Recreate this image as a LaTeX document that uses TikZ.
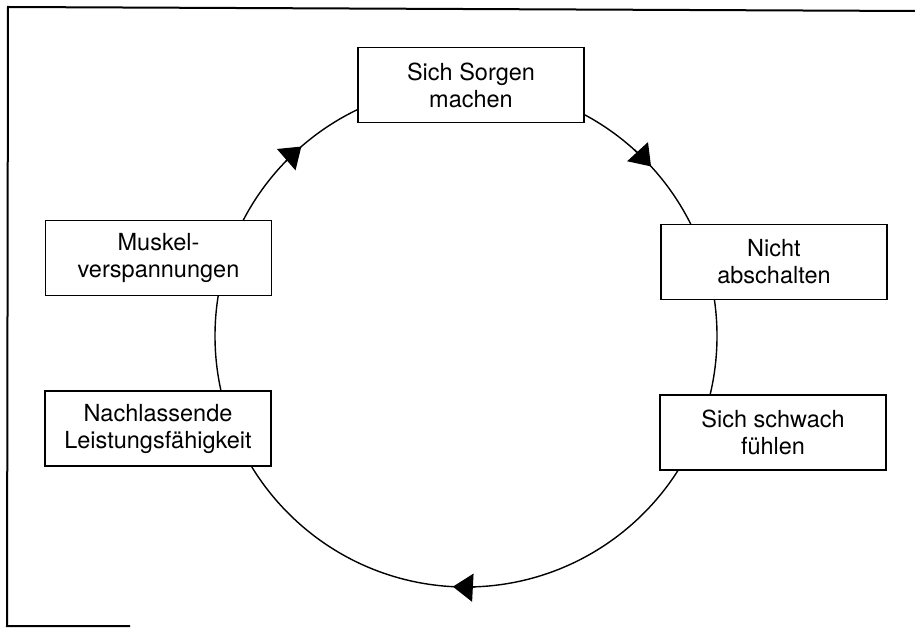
\documentclass[tikz,border=0pt]{standalone}
\usepackage{fontspec}
\setmainfont{TeX Gyre Heros}
\usetikzlibrary{arrows.meta,calc}
\begin{document}
\begin{tikzpicture}[x=1pt,y=1pt,
  box/.style={draw, line width=1.4pt, fill=white, minimum width=226pt, minimum height=75pt,
    inner sep=0pt, align=center, font=\fontsize{23.5}{27}\selectfont},
  ring/.style={line width=1.4pt},
  frame/.style={line width=2pt},
  head/.style={line width=1.4pt, -{Triangle[length=20pt,width=28pt]}}]
\useasboundingbox (0,0) rectangle (915,627);
% partial outer frame
\coordinate (fTL) at (8,620);
\coordinate (fTR) at (915,616);
\coordinate (fBL) at (7,1);
\coordinate (fBR) at (130,1);
\draw[frame] (fTR) -- (fTL) -- (fBL) -- (fBR);
% cycle ring
\coordinate (C) at (466,291);
\draw[ring] (C) circle[radius=251];
\draw[head] ($(C)+(136:251)$) arc[start angle=136, end angle=131, radius=251];
\draw[head] ($(C)+(48:251)$) arc[start angle=48, end angle=42.5, radius=251];
\draw[head] ($(C)+(272:251)$) arc[start angle=272, end angle=267, radius=251];
% boxes
\node[box] (sorgen)  at (471,542)   {Sich Sorgen\\machen};
\node[box] (nicht)   at (774,365)   {Nicht\\abschalten};
\node[box] (schwach) at (773,194.5) {Sich schwach\\fühlen};
\node[box] (nachl)   at (158,198.5) {Nachlassende\\Leistungsfähigkeit};
\node[box] (muskel)  at (158.5,369) {Muskel-\\verspannungen};
\end{tikzpicture}
\end{document}
